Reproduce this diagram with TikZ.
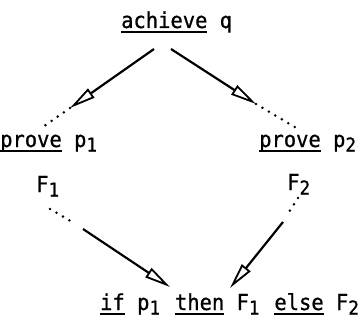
\documentclass[tikz,border=0pt]{standalone}
\usepackage{fontspec}
\newfontfamily\tfont{DejaVu Sans Mono}[FakeBold=0.8,FakeStretch=0.93]
\usetikzlibrary{arrows.meta}
\newcommand\myul[1]{\setbox0\hbox{#1}\rlap{\rule[-4.5pt]{\wd0}{1.8pt}}\box0\relax}
\newcommand\mysub[1]{\makebox[0.6em][l]{\raisebox{-4.5pt}{\fontsize{19}{19}\selectfont #1}}}
\begin{document}
\begin{tikzpicture}[x=1pt,y=-1pt,
  txt/.style={inner sep=0pt, anchor=base west, font=\fontsize{22}{26}\tfont\selectfont},
  arr/.style={line width=2.2pt, -{Triangle[open,length=26pt,width=11pt,line width=1.8pt]}},
  dots/.style={line width=2.8pt, line cap=round, dash pattern=on 0pt off 7.5pt}]
\useasboundingbox (0,0) rectangle (364,321);
% texts
\node[txt] (ach) at (121,28) {\myul{achieve} q};
\node[txt] (pr1) at (0,147) {\myul{prove} p\mysub{1}};
\node[txt] (pr2) at (259,147) {\myul{prove} p\mysub{2}};
\node[txt] (f1) at (36,192) {F\mysub{1}};
\node[txt] (f2) at (287,190) {F\mysub{2}};
\node[txt] (ite) at (100,310) {\myul{if} p\mysub{1} \myul{then} F\mysub{1} \myul{else} F\mysub{2}};
% arrow end points
\coordinate (s1) at (154,49);
\coordinate (t1) at (70,108);
\coordinate (d1) at (40,129);
\coordinate (s2) at (171,49);
\coordinate (t2) at (256,104);
\coordinate (d2) at (298,129);
\coordinate (d3a) at (50,209);
\coordinate (d3b) at (74,223);
\coordinate (s3) at (83,229);
\coordinate (t3) at (170,287);
\coordinate (d4a) at (298,198);
\coordinate (d4b) at (287,215);
\coordinate (s4) at (283,222);
\coordinate (t4) at (230,288);
% connectors
\draw[arr] (s1) -- (t1);
\draw[dots] (t1) -- (d1);
\draw[arr] (s2) -- (t2);
\draw[dots] (t2) -- (d2);
\draw[dots] (d3a) -- (d3b);
\draw[arr] (s3) -- (t3);
\draw[dots] (d4a) -- (d4b);
\draw[arr] (s4) -- (t4);
\end{tikzpicture}
\end{document}
